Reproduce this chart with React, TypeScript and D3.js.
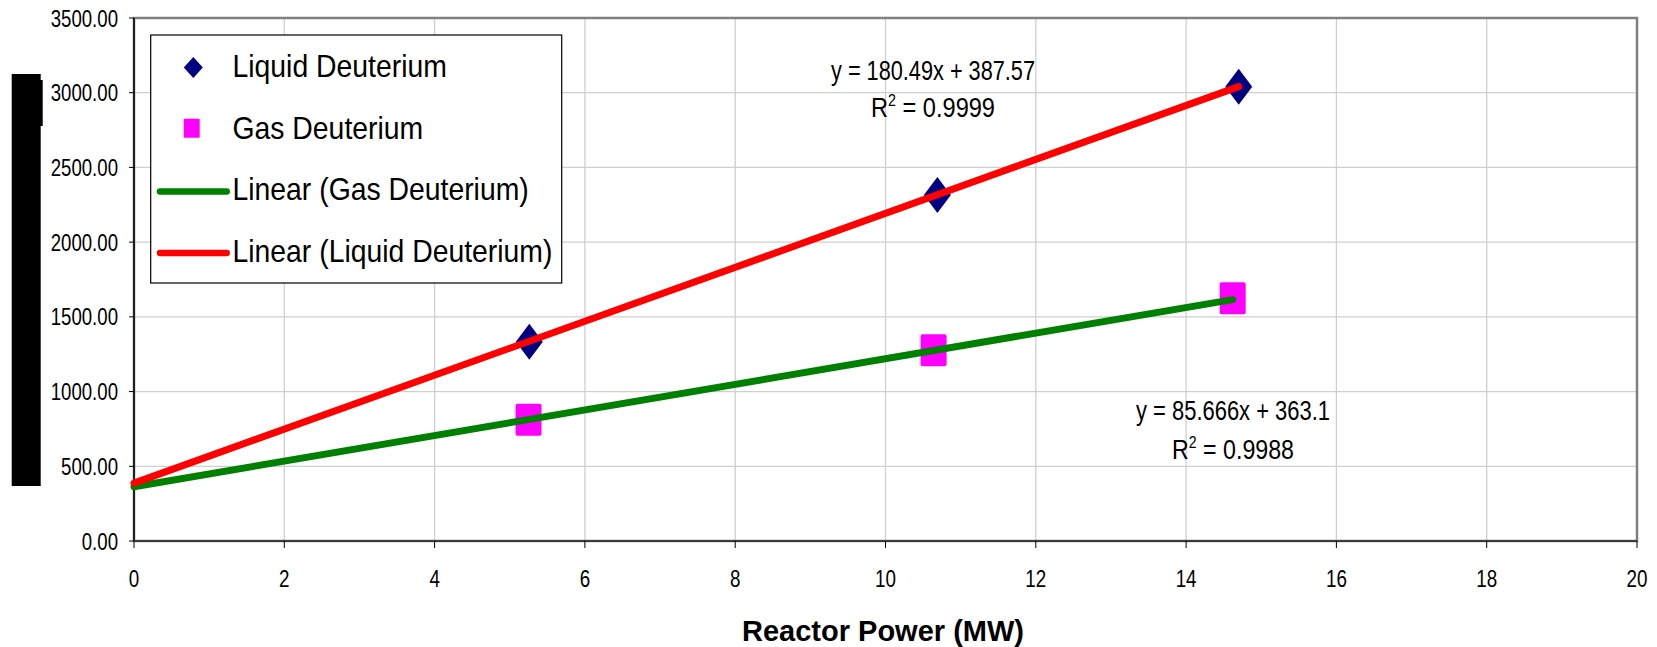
import React, { createRef, Component } from "react";
import * as d3 from "d3";

// values
const liquidX = [5.26, 10.69, 14.7];
const liquidY = [1333, 2316, 3040];
const gasX = [5.25, 10.64, 14.62];
const gasY = [812, 1276, 1625];
const liquidFit = [180.49, 387.57];
const gasFit = [85.666, 363.1];
const xTicks = [0, 2, 4, 6, 8, 10, 12, 14, 16, 18, 20];
const yTicks = [0, 500, 1000, 1500, 2000, 2500, 3000, 3500];
const legendLabels = ["Liquid Deuterium", "Gas Deuterium", "Linear (Gas Deuterium)", "Linear (Liquid Deuterium)"];
const liquidEq = ["y = 180.49x + 387.57", " = 0.9999"];
const gasEq = ["y = 85.666x + 363.1", " = 0.9988"];
const xTitle = "Reactor Power (MW)";

const W = 1657;
const H = 647;
const font = "'Liberation Sans', Arial, sans-serif";

class App extends Component {
  ref = createRef<SVGSVGElement>();

  componentDidMount() {
    document.body.style.margin = "0";
    const svg = d3.select(this.ref.current);
    svg.selectAll("*").remove();

    const left = 134, top = 18, right = 1637, bottom = 541;
    const x = d3.scaleLinear().domain([0, 20]).range([left, right]);
    const y = d3.scaleLinear().domain([0, 3500]).range([bottom, top]);
    const fmt = d3.format(".2f");

    svg.append("rect").attr("width", W).attr("height", H).attr("fill", "#fff");

    // grid
    svg.append("g")
      .selectAll("line")
      .data(xTicks.slice(1, -1))
      .enter()
      .append("line")
      .attr("x1", d => x(d)).attr("x2", d => x(d))
      .attr("y1", top).attr("y2", bottom)
      .attr("stroke", "#cfcfcf").attr("stroke-width", 1.3);
    svg.append("g")
      .selectAll("line")
      .data(yTicks.slice(1, -1))
      .enter()
      .append("line")
      .attr("x1", left).attr("x2", right)
      .attr("y1", d => y(d)).attr("y2", d => y(d))
      .attr("stroke", "#cfcfcf").attr("stroke-width", 1.3);

    // plot frame + axes
    svg.append("rect")
      .attr("x", left).attr("y", top)
      .attr("width", right - left).attr("height", bottom - top)
      .attr("fill", "none").attr("stroke", "#808080").attr("stroke-width", 2.5);
    svg.append("line")
      .attr("x1", left).attr("x2", left).attr("y1", top).attr("y2", bottom)
      .attr("stroke", "#000").attr("stroke-width", 1.5);
    svg.append("line")
      .attr("x1", left).attr("x2", right).attr("y1", bottom).attr("y2", bottom)
      .attr("stroke", "#3a3a3a").attr("stroke-width", 2);

    // y ticks
    const yt = svg.append("g").selectAll("g").data(yTicks).enter().append("g");
    yt.append("line")
      .attr("x1", left - 5).attr("x2", left)
      .attr("y1", d => y(d)).attr("y2", d => y(d))
      .attr("stroke", "#000").attr("stroke-width", 1);
    yt.append("text")
      .attr("transform", d => `translate(118,${y(d) + 8.5}) scale(0.76,1)`)
      .attr("text-anchor", "end")
      .attr("font-family", font).attr("font-size", 24.5)
      .text(d => fmt(d));

    // x ticks
    const xt = svg.append("g").selectAll("g").data(xTicks).enter().append("g");
    xt.append("line")
      .attr("x1", d => x(d)).attr("x2", d => x(d))
      .attr("y1", bottom).attr("y2", bottom + 7)
      .attr("stroke", "#000").attr("stroke-width", 1);
    xt.append("text")
      .attr("transform", d => `translate(${x(d)},587) scale(0.8,1)`)
      .attr("text-anchor", "middle")
      .attr("font-family", font).attr("font-size", 23.5)
      .text(d => d);

    svg.append("text")
      .attr("x", 883).attr("y", 641)
      .attr("text-anchor", "middle")
      .attr("font-family", font).attr("font-size", 30).attr("font-weight", "bold")
      .attr("textLength", 282).attr("lengthAdjust", "spacingAndGlyphs")
      .text(xTitle);

    // blacked out y title
    svg.append("rect").attr("x", 11.7).attr("y", 74).attr("width", 29).attr("height", 412).attr("fill", "#000");
    svg.append("rect").attr("x", 40).attr("y", 80).attr("width", 2.7).attr("height", 46).attr("fill", "#000");

    const diamond = "M0,-18L13.5,0L0,18L-13.5,0Z";

    // markers
    svg.append("g")
      .selectAll("path")
      .data(liquidX.map((d, i) => [d, liquidY[i]]))
      .enter()
      .append("path")
      .attr("d", diamond)
      .attr("transform", d => `translate(${x(d[0])},${y(d[1])})`)
      .attr("fill", "#000080");
    svg.append("g")
      .selectAll("rect")
      .data(gasX.map((d, i) => [d, gasY[i]]))
      .enter()
      .append("rect")
      .attr("x", d => x(d[0]) - 13).attr("y", d => y(d[1]) - 16)
      .attr("width", 26).attr("height", 32).attr("rx", 2)
      .attr("fill", "#ff00ff");

    // trend lines
    const trend = (fit, xs, color) => {
      const line = d3.line<number>().x(d => x(d)).y(d => y(fit[0] * d + fit[1]));
      svg.append("path")
        .attr("d", line([0, d3.max(xs)]))
        .attr("fill", "none")
        .attr("stroke", color).attr("stroke-width", 7).attr("stroke-linecap", "round");
    };
    trend(gasFit, gasX, "#008000");
    trend(liquidFit, liquidX, "#ff0000");

    // equations
    const eq = (lines, cx, cy, gap, w1, w2) => {
      svg.append("text")
        .attr("x", cx).attr("y", cy)
        .attr("text-anchor", "middle")
        .attr("font-family", font).attr("font-size", 28)
        .attr("textLength", w1).attr("lengthAdjust", "spacingAndGlyphs")
        .text(lines[0]);
      const r = svg.append("text")
        .attr("x", cx).attr("y", cy + gap)
        .attr("text-anchor", "middle")
        .attr("font-family", font).attr("font-size", 28)
        .attr("textLength", w2).attr("lengthAdjust", "spacingAndGlyphs");
      r.append("tspan").text("R");
      r.append("tspan").attr("font-size", 17).attr("dy", -11).text("2");
      r.append("tspan").attr("dy", 11).text(lines[1]);
    };
    eq(liquidEq, 933, 80, 37, 204, 124);
    eq(gasEq, 1233, 420, 39, 194, 122);

    // legend
    const lg = svg.append("g");
    lg.append("rect")
      .attr("x", 150.7).attr("y", 35).attr("width", 411).attr("height", 248)
      .attr("fill", "#fff").attr("stroke", "#000").attr("stroke-width", 1.2);
    const rows = lg.selectAll("g.row")
      .data(legendLabels)
      .enter()
      .append("g")
      .attr("class", "row")
      .attr("transform", (d, i) => `translate(0,${77 + i * 61.7})`);
    rows.append("text")
      .attr("transform", "translate(232.5,0) scale(0.93,1)")
      .attr("font-family", font).attr("font-size", 30.5)
      .text(d => d);
    rows.filter((d, i) => i === 0).append("path")
      .attr("d", "M0,-10.5L9.5,0L0,10.5L-9.5,0Z")
      .attr("transform", "translate(193.3,-9.5)")
      .attr("fill", "#000080");
    rows.filter((d, i) => i === 1).append("rect")
      .attr("x", 183.7).attr("y", -20).attr("width", 16).attr("height", 19).attr("rx", 1)
      .attr("fill", "#ff00ff");
    rows.filter((d, i) => i >= 2).append("line")
      .attr("x1", 160).attr("x2", 226.7).attr("y1", -9).attr("y2", -9)
      .attr("stroke", (d, i) => (i === 0 ? "#008000" : "#ff0000"))
      .attr("stroke-width", 6.5).attr("stroke-linecap", "round");
  }

  render() {
    return <svg ref={this.ref} width={W} height={H} style={{ display: "block" }} />;
  }
}

export default App;
